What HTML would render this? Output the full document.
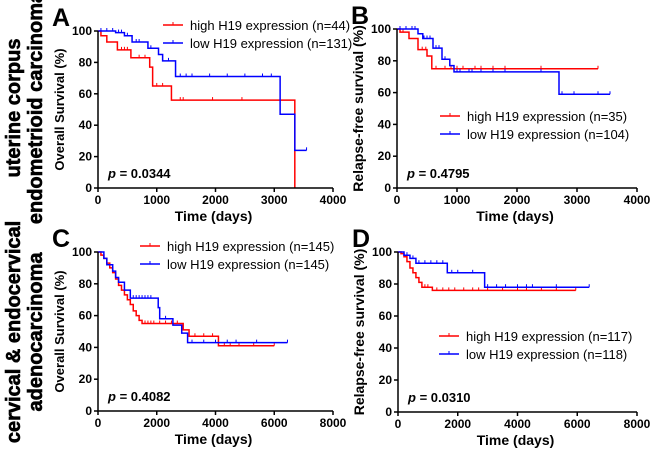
<!DOCTYPE html>
<html><head><meta charset="utf-8"><style>
body{margin:0;background:#fff}
svg{display:block;font-family:"Liberation Sans",Arial,sans-serif}
.b{font-weight:bold}
.rt{font-weight:bold;stroke:#000;stroke-width:0.6}
</style></head><body>
<svg id="fig" width="650" height="450" viewBox="0 0 650 450">
<g font-size="20" text-anchor="middle">
<text class="rt" transform="translate(20,108) rotate(-90)">uterine corpus</text>
<text class="rt" transform="translate(42,108) rotate(-90)">endometrioid carcinoma</text>
</g>
<g font-size="20" text-anchor="middle">
<text class="rt" transform="translate(20,332) rotate(-90)">cervical &amp; endocervical</text>
<text class="rt" transform="translate(42,332) rotate(-90)">adenocarcinoma</text>
</g>
</svg>
<script>
// Panel A
const aHighT=[0,50,150,330,560,880,930,1250,3350];
const aHighS=[100,97,93,88,83,77,65,56,0];
const aHighEnd=3350;
const aHighCens=[400,450,500,700,800,1000,1100,1400,1450,1950,2450];
const aLowT=[0,300,450,580,850,1030,1100,1320,3100,3350];
const aLowS=[100,99,97,93,89,85,81,71,47,24];
const aLowEnd=3550;
const aLowCens=[50,150,250,350,400,500,650,700,900,1200,1400,1500,1600,1900,2200,2500,2800,2950,3550];
// Panel B
const bHighT=[0,50,200,350,500,580];
const bHighS=[100,98,94,87,83,75];
const bHighEnd=3350;
const bHighCens=[100,420,480,650,800,900,1000,1100,1300,1400,1600,1800,2400,3350];
const bLowT=[0,350,430,600,750,880,950,2700];
const bLowS=[100,97,94,88,81,77,73,59];
const bLowEnd=3550;
const bLowCens=[50,150,250,300,450,500,550,650,700,800,1000,1050,1200,1250,1400,1600,1800,2400,2750,2950,3350,3550];
// Panel C
const cHighT=[0,100,200,300,400,500,600,700,800,900,1000,1100,1200,1300,1400,1500,2900,3100,4100];
const cHighS=[100,98,96,93,90,87,83,79,76,73,70,67,63,60,57,55,51,47,41];
const cHighEnd=6000;
const cHighCens=[1600,1700,1800,1900,2100,2300,2500,2700,3300,3600,3900,4300,4500,4800,5300,6000];
const cLowT=[0,200,300,500,600,700,900,1100,2050,2100,2550,2850,3050];
const cLowS=[100,96,92,88,84,81,76,71,65,58,54,49,43];
const cLowEnd=6450;
const cLowCens=[1200,1300,1400,1500,1600,1700,1800,2300,3200,3600,4000,4400,4700,5400,6450];
// Panel D
const dHighT=[0,100,200,300,400,500,600,700,800,1150];
const dHighS=[100,99,97,94,90,87,84,81,78,76];
const dHighEnd=5950;
const dHighCens=[900,1000,1300,1500,1700,1900,2200,2500,2700,3000,3500,4000,4300,4800,5300,5950];
const dLowT=[0,200,400,600,1650,2900];
const dLowS=[100,98,96,93,87,78];
const dLowEnd=6400;
const dLowCens=[300,500,700,900,1100,1300,1500,1800,2000,2500,3000,3300,3600,4000,4300,4500,5300,6400];

const xTicksTop=[0,1000,2000,3000,4000];
const xTicksBot=[0,2000,4000,6000,8000];
const yTicks=[0,20,40,60,80,100];

const NS='http://www.w3.org/2000/svg';
const svg=document.getElementById('fig');
function mk(tag,attrs,parent,txt){const e=document.createElementNS(NS,tag);for(const k in attrs)e.setAttribute(k,attrs[k]);if(txt!==undefined)e.textContent=txt;(parent||svg).appendChild(e);return e;}

const panels=[
 {id:'a',letter:'A',x0:98,x1:333,y0:188,y1:31,xmax:4000,xt:xTicksTop,yl:'Overall Survival (%)',p:'0.0344',
  leg:{x:163,y:25},n:['44','131'],series:[[aHighT,aHighS,aHighEnd,aHighCens],[aLowT,aLowS,aLowEnd,aLowCens]]},
 {id:'b',letter:'B',x0:397,x1:637,y0:188,y1:29,xmax:4000,xt:xTicksTop,yl:'Relapse-free survival (%)',p:'0.4795',
  leg:{x:440,y:116},n:['35','104'],series:[[bHighT,bHighS,bHighEnd,bHighCens],[bLowT,bLowS,bLowEnd,bLowCens]]},
 {id:'c',letter:'C',x0:98,x1:333,y0:411,y1:252,xmax:8000,xt:xTicksBot,yl:'Overall Survival (%)',p:'0.4082',
  leg:{x:140,y:246},n:['145','145'],series:[[cHighT,cHighS,cHighEnd,cHighCens],[cLowT,cLowS,cLowEnd,cLowCens]]},
 {id:'d',letter:'D',x0:398,x1:637,y0:412,y1:252,xmax:8000,xt:xTicksBot,yl:'Relapse-free survival (%)',p:'0.0310',
  leg:{x:439,y:336},n:['117','118'],series:[[dHighT,dHighS,dHighEnd,dHighCens],[dLowT,dLowS,dLowEnd,dLowCens]]}
];
const colors=['#ff0000','#0000ff'];
const labels=['high','low'];

panels.forEach(P=>{
 const g=mk('g',{});
 
 
 const X=v=>P.x0+(P.x1-P.x0)*v/P.xmax;
 const Y=v=>P.y0+(P.y1-P.y0)*v/100;
 const lt=mk('text',{x:P.x0-46,y:P.y1-5,'font-size':25,'class':'b'},g,P.letter);
 
 
 P.series.forEach((s,si)=>{
  const [T,S,end,C]=s;
  let d='M'+X(T[0])+','+Y(S[0]);
  for(let i=1;i<T.length;i++){d+=' H'+X(T[i])+' V'+Y(S[i]);}
  d+=' H'+X(end);
  const path=mk('path',{d:d,fill:'none',stroke:colors[si],'stroke-width':1.5},g);
  
  
  C.forEach(t=>{
   let v=S[0];for(let i=0;i<T.length;i++){if(T[i]<=t)v=S[i];}
   const m=mk('line',{x1:X(t),x2:X(t),y1:Y(v)-3,y2:Y(v),stroke:colors[si],'stroke-width':1},g);
   
   
  });
 });
 const ax=mk('path',{d:`M${P.x0},${P.y1} V${P.y0} H${P.x1}`,fill:'none',stroke:'#000','stroke-width':1.5},g);
 
 
 yTicks.forEach(v=>{
  mk('line',{x1:P.x0-4,x2:P.x0,y1:Y(v),y2:Y(v),stroke:'#000','stroke-width':1.5},g);
  const t=mk('text',{x:P.x0-6,y:Y(v)+4,'font-size':12,'class':'b','text-anchor':'end'},g,v);
  
  
 });
 P.xt.forEach(v=>{
  mk('line',{x1:X(v),x2:X(v),y1:P.y0,y2:P.y0+4,stroke:'#000','stroke-width':1.5},g);
  const t=mk('text',{x:X(v),y:P.y0+16,'font-size':12,'class':'b','text-anchor':'middle'},g,v);
  
  
 });
 const xt=mk('text',{x:(P.x0+P.x1)/2-2,y:P.y0+33,'font-size':14,'class':'b','text-anchor':'middle'},g,'Time (days)');
 
 
 const yt=mk('text',{transform:`translate(${P.x0-34},${(P.y0+P.y1)/2}) rotate(-90)`,'font-size':P.id==='b'||P.id==='d'?14:13,'class':'b','text-anchor':'middle'},g,P.yl);
 
 
 const pt=mk('text',{x:P.x0+10,y:P.y0-10,'font-size':13,'class':'b'},g);
 
 
 mk('tspan',{'font-style':'italic'},pt,'p');
 mk('tspan',{},pt,' = '+P.p);
 [0,1].forEach(i=>{
  const ly=P.leg.y+i*18;
  const lg=mk('g',{},g);
  
  
  mk('line',{x1:P.leg.x,x2:P.leg.x+20,y1:ly,y2:ly,stroke:colors[i],'stroke-width':1.5},lg);
  mk('line',{x1:P.leg.x+10,x2:P.leg.x+10,y1:ly-3,y2:ly,stroke:colors[i],'stroke-width':1},lg);
  mk('text',{x:P.leg.x+27,y:ly+5,'font-size':13},lg,labels[i]+' H19 expression (n='+P.n[i]+')');
 });
});
</script>
</body></html>
